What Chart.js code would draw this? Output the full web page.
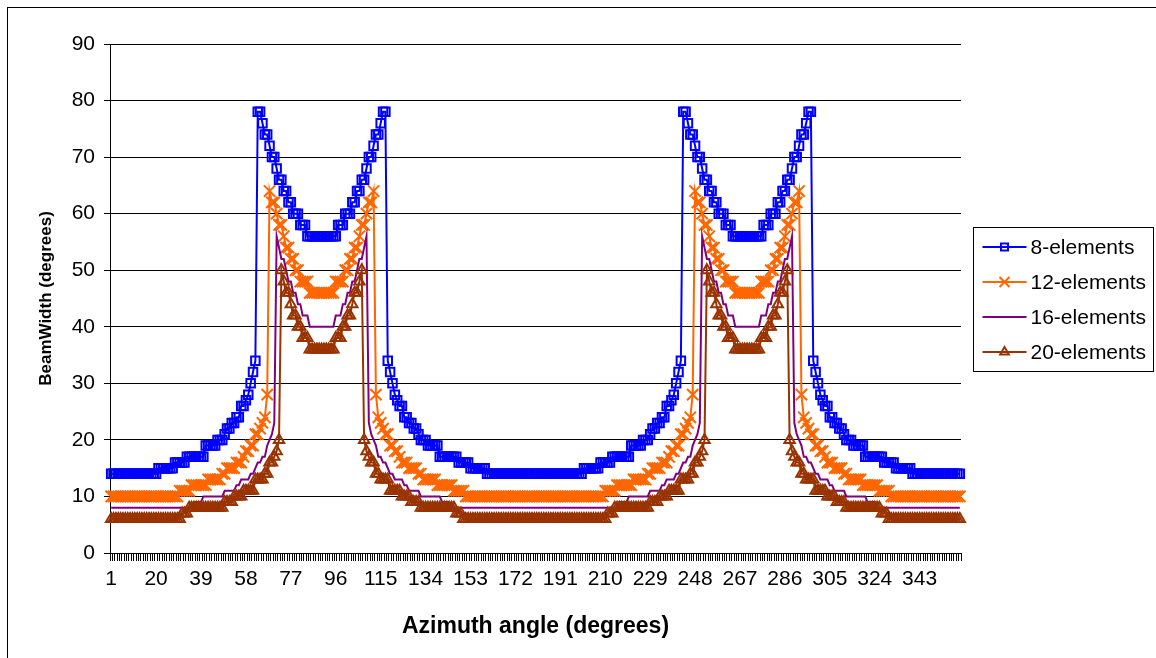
<!DOCTYPE html>
<html>
<head>
<meta charset="utf-8">
<title>BeamWidth vs Azimuth angle</title>
<script src="https://cdn.jsdelivr.net/npm/chart.js@4.4.1/dist/chart.umd.min.js"></script>
<style>
  html, body { margin: 0; padding: 0; background: #fff; }
  #wrap { width: 1156px; height: 658px; position: relative; }
</style>
</head>
<body>
<div id="wrap"><canvas id="beamChart" width="1156" height="658"></canvas></div>
<script>
// azimuth categories 1..360
const azimuth = Array.from({ length: 360 }, (_, i) => i + 1);
const xTickLabels = [1, 20, 39, 58, 77, 96, 115, 134, 153, 172, 191, 210, 229, 248, 267, 286, 305, 324, 343];
const seriesNames = ['8-elements', '12-elements', '16-elements', '20-elements'];

const bw8 = [
    14,14,14,14,14,14,14,14,14,14,14,14,14,14,14,14,14,14,14,14,
    15,15,15,15,15,15,15,16,16,16,16,16,17,17,17,17,17,17,17,17,
    19,19,19,19,19,20,20,20,21,22,22,23,23,24,24,26,26,27,28,30,
    32,34,78,78,76,74,74,72,70,70,68,66,66,64,64,62,62,60,60,60,
    58,58,58,56,56,56,56,56,56,56,56,56,56,56,56,56,58,58,58,60,
    60,60,62,62,64,64,66,66,68,70,70,72,74,74,76,78,78,34,32,30,
    28,27,26,26,24,24,23,23,22,22,21,20,20,20,19,19,19,19,19,17,
    17,17,17,17,17,17,17,16,16,16,16,16,15,15,15,15,15,15,15,14,
    14,14,14,14,14,14,14,14,14,14,14,14,14,14,14,14,14,14,14,14,
    14,14,14,14,14,14,14,14,14,14,14,14,14,14,14,14,14,14,14,14,
    15,15,15,15,15,15,15,16,16,16,16,16,17,17,17,17,17,17,17,17,
    19,19,19,19,19,20,20,20,21,22,22,23,23,24,24,26,26,27,28,30,
    32,34,78,78,76,74,74,72,70,70,68,66,66,64,64,62,62,60,60,60,
    58,58,58,56,56,56,56,56,56,56,56,56,56,56,56,56,58,58,58,60,
    60,60,62,62,64,64,66,66,68,70,70,72,74,74,76,78,78,34,32,30,
    28,27,26,26,24,24,23,23,22,22,21,20,20,20,19,19,19,19,19,17,
    17,17,17,17,17,17,17,16,16,16,16,16,15,15,15,15,15,15,15,14,
    14,14,14,14,14,14,14,14,14,14,14,14,14,14,14,14,14,14,14,14
];

const bw12 = [
    10,10,10,10,10,10,10,10,10,10,10,10,10,10,10,10,10,10,10,10,
    10,10,10,10,10,10,10,10,10,11,11,11,11,11,12,12,12,12,12,12,
    12,13,13,13,13,13,13,14,14,15,15,15,15,16,16,16,17,18,18,19,
    19,21,21,22,23,24,28,64,62,62,60,58,58,56,54,54,52,52,50,50,
    48,48,48,48,46,46,46,46,46,46,46,46,46,46,46,48,48,48,48,50,
    50,52,52,54,54,56,58,58,60,62,62,64,28,24,23,22,21,21,19,19,
    18,18,17,16,16,16,15,15,15,15,14,14,13,13,13,13,13,13,12,12,
    12,12,12,12,12,11,11,11,11,11,10,10,10,10,10,10,10,10,10,10,
    10,10,10,10,10,10,10,10,10,10,10,10,10,10,10,10,10,10,10,10,
    10,10,10,10,10,10,10,10,10,10,10,10,10,10,10,10,10,10,10,10,
    10,10,10,10,10,10,10,10,10,11,11,11,11,11,12,12,12,12,12,12,
    12,13,13,13,13,13,13,14,14,15,15,15,15,16,16,16,17,18,18,19,
    19,21,21,22,23,24,28,64,62,62,60,58,58,56,54,54,52,52,50,50,
    48,48,48,48,46,46,46,46,46,46,46,46,46,46,46,48,48,48,48,50,
    50,52,52,54,54,56,58,58,60,62,62,64,28,24,23,22,21,21,19,19,
    18,18,17,16,16,16,15,15,15,15,14,14,13,13,13,13,13,13,12,12,
    12,12,12,12,12,11,11,11,11,11,10,10,10,10,10,10,10,10,10,10,
    10,10,10,10,10,10,10,10,10,10,10,10,10,10,10,10,10,10,10,10
];

const bw16 = [
    8,8,8,8,8,8,8,8,8,8,8,8,8,8,8,8,8,8,8,8,
    8,8,8,8,8,8,8,8,8,8,8,8,8,8,8,9,9,9,9,10,
    10,10,10,10,10,10,10,10,11,11,11,11,11,12,12,13,13,13,13,14,
    14,15,16,16,17,17,19,20,21,23,56,54,52,52,50,48,48,46,46,44,
    44,42,42,42,40,40,40,40,40,40,40,40,40,40,40,42,42,42,44,44,
    46,46,48,48,50,52,52,54,56,23,21,20,19,17,17,16,16,15,14,14,
    13,13,13,13,12,12,11,11,11,11,11,10,10,10,10,10,10,10,10,10,
    9,9,9,9,8,8,8,8,8,8,8,8,8,8,8,8,8,8,8,8,
    8,8,8,8,8,8,8,8,8,8,8,8,8,8,8,8,8,8,8,8,
    8,8,8,8,8,8,8,8,8,8,8,8,8,8,8,8,8,8,8,8,
    8,8,8,8,8,8,8,8,8,8,8,8,8,8,8,9,9,9,9,10,
    10,10,10,10,10,10,10,10,11,11,11,11,11,12,12,13,13,13,13,14,
    14,15,16,16,17,17,19,20,21,23,56,54,52,52,50,48,48,46,46,44,
    44,42,42,42,40,40,40,40,40,40,40,40,40,40,40,42,42,42,44,44,
    46,46,48,48,50,52,52,54,56,23,21,20,19,17,17,16,16,15,14,14,
    13,13,13,13,12,12,11,11,11,11,11,10,10,10,10,10,10,10,10,10,
    9,9,9,9,8,8,8,8,8,8,8,8,8,8,8,8,8,8,8,8,
    8,8,8,8,8,8,8,8,8,8,8,8,8,8,8,8,8,8,8,8
];

const bw20 = [
    6,6,6,6,6,6,6,6,6,6,6,6,6,6,6,6,6,6,6,6,
    6,6,6,6,6,6,6,6,6,6,7,7,7,8,8,8,8,8,8,8,
    8,8,8,8,8,8,8,8,9,9,9,9,10,10,10,10,11,11,11,11,
    11,13,13,13,13,14,14,16,16,17,18,20,50,48,46,46,44,42,42,40,
    40,38,38,38,36,36,36,36,36,36,36,36,36,36,36,38,38,38,40,40,
    42,42,44,46,46,48,50,20,18,17,16,16,14,14,13,13,13,13,11,11,
    11,11,11,10,10,10,10,9,9,9,9,8,8,8,8,8,8,8,8,8,
    8,8,8,8,8,8,7,7,7,6,6,6,6,6,6,6,6,6,6,6,
    6,6,6,6,6,6,6,6,6,6,6,6,6,6,6,6,6,6,6,6,
    6,6,6,6,6,6,6,6,6,6,6,6,6,6,6,6,6,6,6,6,
    6,6,6,6,6,6,6,6,6,6,7,7,7,8,8,8,8,8,8,8,
    8,8,8,8,8,8,8,8,9,9,9,9,10,10,10,10,11,11,11,11,
    11,13,13,13,13,14,14,16,16,17,18,20,50,48,46,46,44,42,42,40,
    40,38,38,38,36,36,36,36,36,36,36,36,36,36,36,38,38,38,40,40,
    42,42,44,46,46,48,50,20,18,17,16,16,14,14,13,13,13,13,11,11,
    11,11,11,10,10,10,10,9,9,9,9,8,8,8,8,8,8,8,8,8,
    8,8,8,8,8,8,7,7,7,6,6,6,6,6,6,6,6,6,6,6,
    6,6,6,6,6,6,6,6,6,6,6,6,6,6,6,6,6,6,6,6
];

const FONT = "'Liberation Sans', Arial, sans-serif";
Chart.defaults.font.family = FONT;
Chart.defaults.color = '#000';

// white page + outer frame
const framePlugin = {
    id: 'frame',
    beforeDraw(chart) {
        const ctx = chart.ctx;
        ctx.save();
        ctx.fillStyle = '#fff';
        ctx.fillRect(0, 0, chart.width, chart.height);
        ctx.strokeStyle = '#000';
        ctx.lineWidth = 1;
        ctx.strokeRect(7.5, 7.5, 1200, 700);
        ctx.restore();
    }
};

// Excel-style legend: line sample with marker, boxed
const boxLegend = {
    id: 'boxLegend',
    afterDraw(chart) {
        const ctx = chart.ctx;
        const left = 973.5, top = 227.5, w = 180, h = 144;
        ctx.save();
        ctx.strokeStyle = '#000';
        ctx.lineWidth = 1;
        ctx.strokeRect(left, top, w, h);
        ctx.font = '21px ' + FONT;
        ctx.textBaseline = 'middle';
        ctx.textAlign = 'left';
        chart.data.datasets.forEach((ds, k) => {
            const y = Math.round(top + 19 + k * 35.3);
            ctx.strokeStyle = ds.borderColor;
            ctx.lineWidth = 2;
            ctx.beginPath();
            ctx.moveTo(left + 9, y);
            ctx.lineTo(left + 53, y);
            ctx.stroke();
            if (ds.pointRadius > 0) {
                ctx.fillStyle = 'rgba(0,0,0,0)';
                Chart.helpers.drawPoint(ctx, {
                    pointStyle: ds.pointStyle,
                    radius: ds.pointRadius - 1,
                    rotation: 0,
                    borderWidth: 2
                }, left + 31, y);
            }
            ctx.fillStyle = '#000';
            ctx.fillText(ds.label, left + 57, y + 1);
        });
        ctx.restore();
    }
};

new Chart(document.getElementById('beamChart'), {
    type: 'line',
    data: {
        labels: azimuth,
        datasets: [{
            label: seriesNames[0],
            data: bw8,
            borderColor: '#0000FF',
            borderWidth: 2,
            pointStyle: 'rect',
            pointRadius: 6,
            pointBorderWidth: 2,
            pointBorderColor: '#0000FF',
            pointBackgroundColor: 'rgba(0,0,0,0)',
            order: 4
        }, {
            label: seriesNames[1],
            data: bw12,
            borderColor: '#FF6600',
            borderWidth: 2,
            pointStyle: 'crossRot',
            pointRadius: 8,
            pointBorderWidth: 2,
            pointBorderColor: '#FF6600',
            pointBackgroundColor: 'rgba(0,0,0,0)',
            order: 3
        }, {
            label: seriesNames[2],
            data: bw16,
            borderColor: '#800080',
            borderWidth: 2,
            pointRadius: 0,
            order: 2
        }, {
            label: seriesNames[3],
            data: bw20,
            borderColor: '#993300',
            borderWidth: 2,
            pointStyle: 'triangle',
            pointRadius: 6,
            pointBorderWidth: 2,
            pointBorderColor: '#993300',
            pointBackgroundColor: 'rgba(0,0,0,0)',
            order: 1
        }]
    },
    options: {
        responsive: false,
        animation: false,
        events: [],
        layout: { padding: { top: 44, right: 195, bottom: 0, left: 0 } },
        elements: { line: { tension: 0 } },
        plugins: {
            legend: { display: false },
            tooltip: { enabled: false }
        },
        scales: {
            x: {
                type: 'category',
                offset: true,
                afterFit(scale) { scale.height = 105; },
                grid: {
                    offset: true,
                    drawOnChartArea: false,
                    drawTicks: true,
                    tickLength: 8,
                    color: '#000'
                },
                border: { display: true, color: '#000', width: 1 },
                ticks: {
                    autoSkip: false,
                    maxRotation: 0,
                    minRotation: 0,
                    padding: 6,
                    font: { size: 21 },
                    color: '#000',
                    callback(value, index) {
                        const lab = azimuth[index];
                        return xTickLabels.includes(lab) ? String(lab) : '';
                    }
                },
                title: {
                    display: true,
                    text: 'Azimuth angle (degrees)',
                    font: { size: 23, weight: 'bold' },
                    color: '#000',
                    padding: { top: 0, bottom: 18 }
                }
            },
            y: {
                min: 0,
                max: 90,
                afterFit(scale) { scale.width = 110; },
                ticks: {
                    stepSize: 10,
                    padding: 9,
                    font: { size: 21 },
                    color: '#000'
                },
                grid: {
                    color: '#000',
                    lineWidth: 1,
                    tickLength: 6
                },
                border: { display: true, color: '#000', width: 1 },
                title: {
                    display: true,
                    text: 'BeamWidth (degrees)',
                    font: { size: 17, weight: 'bold' },
                    color: '#000',
                    padding: { top: 36, bottom: 0 }
                }
            }
        }
    },
    plugins: [framePlugin, boxLegend]
});
</script>
</body>
</html>
